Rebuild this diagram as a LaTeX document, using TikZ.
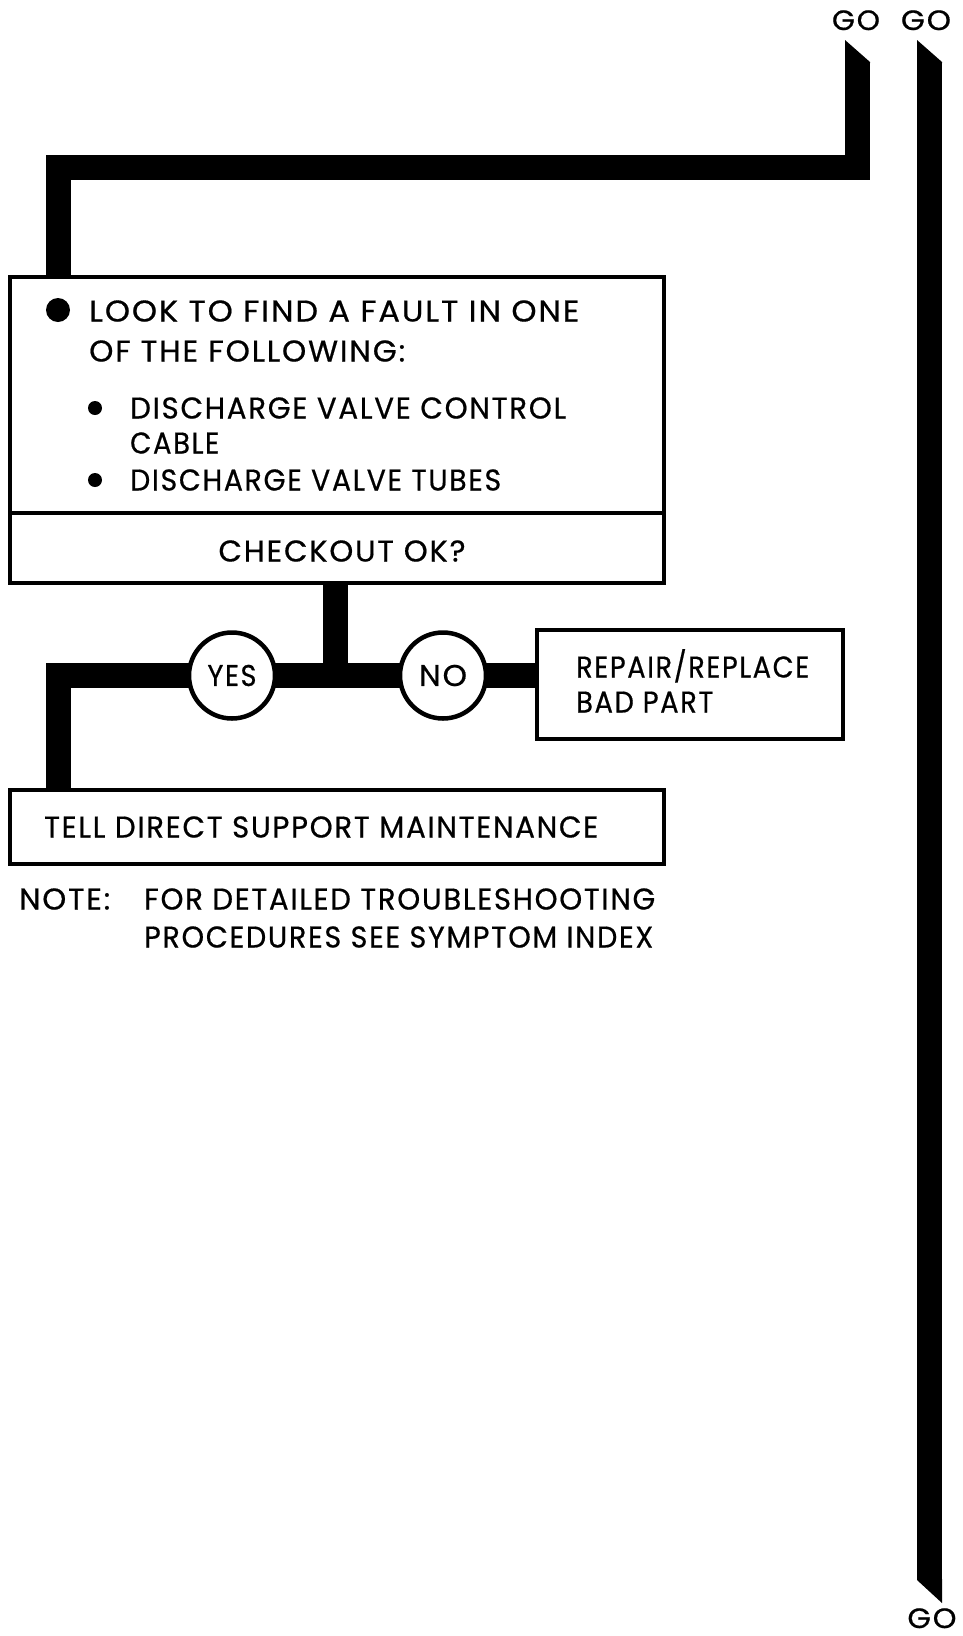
\documentclass[tikz,border=0pt]{standalone}
\usepackage{fontspec}
\usepackage{graphicx}
\setmainfont{Poppins}[LetterSpace=6,FakeBold=0.6]
\pgfdeclarelayer{bg}
\pgfsetlayers{bg,main}
\newcommand\dfont{\fontsize{30}{36}\selectfont}
\newcommand\gofont{\fontsize{28}{32}\selectfont}
\newcommand\fitto[2]{\resizebox{#1pt}{\height}{#2}}
\begin{document}
\begin{tikzpicture}[x=1pt,y=-1pt,
  box/.style={draw=black,line width=3.5pt,fill=white,rectangle,inner sep=0pt},
  ring/.style={draw=black,line width=4.5pt,fill=white,circle,inner sep=0pt,minimum size=86pt,font=\dfont},
  pipe/.style={draw=black,line width=25pt,line cap=butt,line join=miter},
  lbl/.style={inner sep=0pt,anchor=base west,font=\dfont},
  clbl/.style={inner sep=0pt,anchor=base,font=\dfont},
  golbl/.style={inner sep=0pt,anchor=base,font=\gofont},
  dot/.style={circle,fill=black,inner sep=0pt}]
\useasboundingbox (0,0) rectangle (962,1636);

% boxes
\node[box,minimum width=654pt,minimum height=236pt] (find) at (337,395) {};
\node[box,minimum width=654pt,minimum height=70pt] (check) at (337,548) {};
\node[box,minimum width=306pt,minimum height=109pt] (repair) at (690,684.5) {};
\node[box,minimum width=654pt,minimum height=74pt] (tell) at (337,827) {};
\node[ring] (yes) at (232,675.5) {\fitto{49}{YES}};
\node[ring] (no) at (443,675.5) {\fitto{48}{NO}};

% texts
\node[dot,minimum size=24pt] (b0) at (58,310) {};
\node[lbl] (l1) at (89,321.5) {\fitto{490}{LOOK TO FIND A FAULT IN ONE}};
\node[lbl] (l2) at (89,361.5) {\fitto{316}{OF THE FOLLOWING:}};
\node[dot,minimum size=14pt] (b1) at (95,408) {};
\node[lbl] (l3) at (130,418.5) {\fitto{436}{DISCHARGE VALVE CONTROL}};
\node[lbl] (l4) at (130,453.5) {\fitto{89}{CABLE}};
\node[dot,minimum size=14pt] (b2) at (95,480) {};
\node[lbl] (l5) at (130,490.5) {\fitto{371}{DISCHARGE VALVE TUBES}};
\node[clbl] (ck) at (342,561.5) {\fitto{247}{CHECKOUT OK?}};
\node[lbl] (r1) at (576,677.5) {\fitto{233}{REPAIR/REPLACE}};
\node[lbl] (r2) at (576,712.5) {\fitto{137}{BAD PART}};
\node[lbl] (t1) at (44,837.5) {\fitto{554}{TELL DIRECT SUPPORT MAINTENANCE}};
\node[lbl] (n0) at (19,909.5) {\fitto{91}{NOTE:}};
\node[lbl] (n1) at (144,909.5) {\fitto{511}{FOR DETAILED TROUBLESHOOTING}};
\node[lbl] (n2) at (144,947.5) {\fitto{509}{PROCEDURES SEE SYMPTOM INDEX}};
\node[golbl] (go1) at (856,30) {\fitto{48}{GO}};
\node[golbl] (go2) at (926,30) {\fitto{50}{GO}};
\node[golbl] (go3) at (932,1628) {\fitto{49}{GO}};

% pipes
\coordinate (p1) at (857.5,62);
\coordinate (c1) at (58,167.5);
\coordinate (p2) at (929.5,62);
\coordinate (q2) at (929.5,1580);
\coordinate (j) at (335.5,675.5);
\coordinate (k) at (58,675.5);
\begin{pgfonlayer}{bg}
  \draw[pipe] (p1) |- (c1) -- (c1 |- find.north);
  \fill (845,40) -- (870,62) -- (870,63) -- (845,63) -- cycle;
  \draw[pipe] (p2) -- (q2);
  \fill (917,40) -- (942,62) -- (942,63) -- (917,63) -- cycle;
  \fill (917,1579) -- (942,1579) -- (942,1603) -- (917,1580) -- cycle;
  \draw[pipe] (j |- check.south) -- (j);
  \draw[pipe] (repair.west |- k) -- (k) -- (k |- tell.north);
\end{pgfonlayer}
\end{tikzpicture}
\end{document}
